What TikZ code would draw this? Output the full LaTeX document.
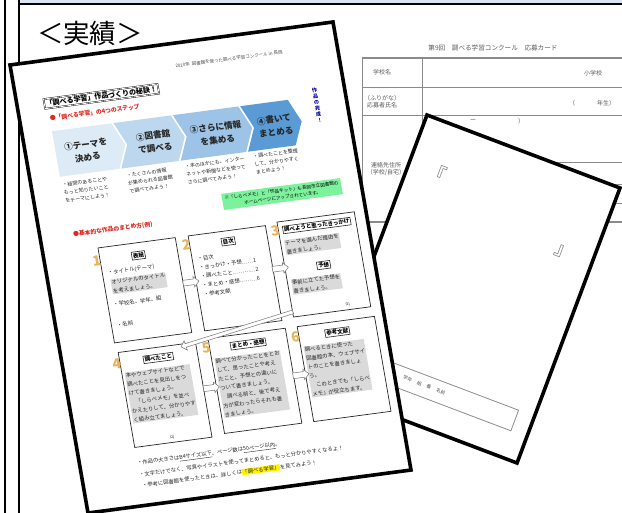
\documentclass[tikz,border=0pt]{standalone}
\usepackage{fontspec}
\setmainfont{Noto Sans CJK JP}
\usetikzlibrary{shapes.arrows,arrows.meta,calc}
\newcommand\fsz[2]{\fontsize{#1}{#2}\selectfont}
\definecolor{bandc}{HTML}{DCE6F2}
\definecolor{chA}{HTML}{DDEBF7}
\definecolor{chB}{HTML}{BDD7EE}
\definecolor{chC}{HTML}{9DC3E6}
\definecolor{chD}{HTML}{5B9BD5}
\definecolor{redc}{HTML}{E3261E}
\definecolor{greenc}{HTML}{7CF29C}
\definecolor{numc}{HTML}{E9B35A}
\definecolor{hlc}{HTML}{DADADA}
\definecolor{tblc}{HTML}{8A8A8A}
\definecolor{tbltxt}{HTML}{5A5A5A}
\begin{document}
\begin{tikzpicture}[x=1pt,y=-1pt,
  frameline/.style={line width=2pt},
  docedge/.style={line width=3.6pt, line join=miter},
  tblline/.style={draw=tblc, line width=0.9pt},
  tbltext/.style={text=tbltxt, font=\fsz{6}{8}, align=center, inner sep=0pt},
  steptext/.style={font=\bfseries\fsz{8.6}{13}, align=center, text=black!85, inner sep=0pt},
  desc/.style={font=\fsz{5}{8}, align=left, anchor=north west, inner sep=0pt, text=black!85},
  sbox/.style={draw=black!85, line width=0.7pt, anchor=north west, minimum width=78pt, minimum height=96pt, inner sep=0pt},
  hdr/.style={draw=black!85, line width=0.6pt, font=\bfseries\fsz{5.5}{6.5}, inner sep=1.2pt, fill=white},
  body/.style={font=\fsz{5.4}{9}, align=left, anchor=north west, inner sep=0.6pt, text=black!85},
  hlbody/.style={body, fill=hlc},
  num/.style={font=\bfseries\fsz{14}{14}, text=numc, inner sep=0pt},
  barrow/.style={single arrow, draw=black!55, fill=white, line width=0.5pt, minimum height=16pt, inner sep=2.6pt, single arrow head extend=2.4pt},
  note/.style={font=\fsz{5.3}{6}, anchor=west, inner sep=0pt, text=black!85},
  redhead/.style={font=\bfseries\fsz{5.8}{6.5}, text=redc, anchor=west, inner sep=0pt},
]
\useasboundingbox (0,0) rectangle (622,513);
\fill[white] (0,0) rectangle (622,513);
% frame
\fill[bandc] (19,0) rectangle (622,4);
\draw[frameline] (5,0) -- (5,513);
\draw[frameline] (19,0) -- (19,513);
\draw[frameline] (19,4) -- (622,4);
\node[font=\fsz{26.5}{27}, inner sep=0pt] (title) at (90,33) {＜実績＞};

% document 2: application card (background)
\node[tbltext, font=\fsz{6.6}{8}] (d2title) at (493,48) {第9回\quad 調べる学習コンクール\quad 応募カード};
\draw[tblline, line width=1.3pt] (362,58) -- (622,58);
\draw[tblline] (362,58) -- (362,222);
\draw[tblline] (422,58) -- (422,222);
\draw[tblline] (362,87) -- (622,87);
\draw[tblline] (362,115) -- (622,115);
\draw[tblline] (422,162) -- (622,162);
\draw[tblline] (422,184) -- (622,184);
\draw[tblline] (422,203) -- (622,203);
\draw[tblline, line width=1.5pt] (362,222) -- (622,222);
\node[tbltext] (r1) at (382,72) {学校名};
\node[tbltext] (r1b) at (593,73) {小学校};
\node[tbltext, font=\fsz{6}{7}] (r2) at (382,102) {（ふりがな）\\応募者氏名};
\node[tbltext] (r2b) at (572,103) {（};
\node[tbltext] (r2c) at (606,103) {年生）};
\node[tbltext] (r3a) at (473,121) {ー};
\node[tbltext] (r3b) at (521,121) {）};
\node[tbltext, font=\fsz{6}{7}] (r3) at (386,169) {連絡先住所\\（学校/自宅）};

% document 3: white card
\begin{scope}[cm={0.9369,-0.3544,0.3503,0.9354,(427,115)}, transform shape]
  \fill[white] (0,0) rectangle (206,294);
  \draw[draw=black!45, line width=0.8pt] (10,244) -- (189,244) -- (189,266) -- (10,266);
  \node[font=\fsz{4.6}{5}, text=black!70] (names) at (92,254) {学年\quad\ 組\quad\ 番\quad\ 名前};
  \node[font=\fsz{19}{19}, text=black!55, inner sep=0pt] (qa) at (30,50) {『};
  \node[font=\fsz{19}{19}, text=black!55, inner sep=0pt] (qb) at (176,80) {』};
  \draw[docedge] (0,0) rectangle (206,294);
\end{scope}

% document 1: main sheet
\begin{scope}[cm={0.9908,0.1319,-0.1722,0.989,(10,65)}, transform shape]
  \fill[white] (0,0) rectangle (326,453);
  \node[font=\fsz{4.5}{5}, text=black!70, inner sep=0pt] (hd) at (217,23) {2020年\ \ 図書館を使った調べる学習コンクール in 長岡};
  \node[draw, double, double distance=0.8pt, line width=0.4pt, font=\bfseries\fsz{7}{8}, inner sep=1.5pt, anchor=west] (tt) at (27,43) {「調べる学習」作品づくりの秘訣！};
  \node[redhead] (rh1) at (30,58) {●「調べる学習」の4つのステップ};
  % chevrons
  \fill[chA] (30,71) -- (90,71) -- (100,94) -- (90,117) -- (30,117) -- cycle;
  \fill[chB] (92,71) -- (150,71) -- (160,94) -- (150,117) -- (92,117) -- (102,94) -- cycle;
  \fill[chC] (152,71) -- (218,71) -- (228,94) -- (218,117) -- (152,117) -- (162,94) -- cycle;
  \fill[chD] (220,71) -- (268,71) -- (278,94) -- (268,117) -- (220,117) -- (230,94) -- cycle;
  \node[steptext] (s1) at (61,95) {①テーマを\\決める};
  \node[steptext] (s2) at (129,95) {②図書館\\で調べる};
  \node[steptext] (s3) at (192,95) {③さらに情報\\を集める};
  \node[steptext] (s4) at (251,95) {④書いて\\まとめる};
  \node[desc] (e1) at (31,123) {・疑問のあることや\\もっと知りたいこと\\をテーマにしよう！};
  \node[desc] (e2) at (96,122) {・たくさんの情報\\が集められる図書館\\で調べてみよう！};
  \node[desc] (e3) at (155,121) {・本のほかにも、インター\\ネットや新聞などを使って\\さらに調べてみよう！};
  \node[desc] (e4) at (224,120) {・調べたことを整理\\して、分かりやすく\\まとめよう！};
  \node[font=\bfseries\fsz{5}{6}, text=blue!65!black, align=center, inner sep=0pt] (vt) at (296,80) {作\\品\\の\\完\\成\\！};
  \node[fill=greenc, anchor=north west, inner sep=2.5pt, align=center, font=\fsz{4.6}{7}] (gbox) at (186,155) {※「しらべメモ」と「作品キット」も長岡市立図書館の\\ホームページにアップされています。};
  \node[redhead] (rh2) at (33,176) {●基本的な作品のまとめ方(例)};
  % six boxes
  \node[sbox] (b1) at (55,192) {};
  \node[sbox] (b2) at (146,192) {};
  \node[sbox] (b3) at (236,190) {};
  \node[sbox] (b4) at (57,298) {};
  \node[sbox] (b5) at (148,296) {};
  \node[sbox] (b6) at (238,296) {};
  \node[num] (n1) at (52,205) {1};
  \node[num] (n2) at (143,201) {2};
  \node[num] (n3) at (233,199) {3};
  \node[num] (n4) at (54,309) {4};
  \node[num] (n5) at (145,306) {5};
  \node[num] (n6) at (235,306) {6};
  % box 1
  \node[hdr] (h1) at (94,205) {表紙};
  \node[body] (t1a) at (60,215) {・タイトル(テーマ)};
  \node[hlbody] (t1b) at (62,225) {オリジナルのタイトル\\を考えましょう。};
  \node[body] (t1c) at (60,247) {・学校名、学年、組};
  \node[body] (t1d) at (60,268) {・名前};
  % box 2
  \node[hdr] (h2) at (185,203) {目次};
  \node[body] (t2) at (151,213) {・目次\\・きっかけ・予想……1\\・調べたこと…………2\\・まとめ・感想………6\\・参考文献};
  % box 3
  \node[hdr] (h3) at (275,199) {調べようと思ったきっかけ};
  \node[hlbody] (t3a) at (240,209) {テーマを選んだ理由を\\書きましょう。};
  \node[hdr] (h3b) at (275,239) {予想};
  \node[hlbody] (t3b) at (240,249) {事前に立てた予想を\\書きましょう。};
  \node[font=\fsz{3.5}{4}, inner sep=0pt] (p1) at (292,281) {(1)};
  % box 4
  \node[hdr] (h4) at (96,309) {調べたこと};
  \node[hlbody] (t4) at (60,319) {本やウェブサイトなどで\\調べたことを見出しをつ\\けて書きましょう。\\　「しらべメモ」を並べ\\かえたりして、分かりやす\\く組み立てましょう。};
  \node[font=\fsz{3.5}{4}, inner sep=0pt] (p2) at (96,389) {(2)};
  % box 5
  \node[hdr] (h5) at (187,307) {まとめ・感想};
  \node[hlbody] (t5) at (151,317) {調べて分かったことをとお\\して、思ったことや考え\\たこと、予想との違いに\\ついて書きましょう。\\　調べる前と、後で考え\\方が変わったらそれも書\\きましょう。};
  % box 6
  \node[hdr] (h6) at (277,307) {参考文献};
  \node[hlbody] (t6) at (241,317) {調べるときに使った\\図書館の本、ウェブサイ\\トのことを書きましょ\\う。\\　このときでも「しらべ\\メモ」が役立ちます。};
  % arrows
  \node[barrow] (a12) at ($(b1.east)!0.5!(b2.west)+(0,-2)$) {};
  \node[barrow] (a23) at ($(b2.east)!0.5!(b3.west)+(0,-3)$) {};
  \node[barrow] (a45) at ($(b4.east)!0.5!(b5.west)$) {};
  \node[barrow] (a56) at ($(b5.east)!0.5!(b6.west)$) {};
  \coordinate (d1) at ($(b3.south west)+(2,-6)$);
  \coordinate (d2) at ($(b4.north east)+(-15,3)$);
  \node[barrow, minimum height=118pt, inner sep=1.6pt, single arrow head extend=3pt, rotate=189.7] (a34) at ($(d1)!0.5!(d2)$) {};
  % notes
  \node[note] (nt1) at (57,411) {・作品の大きさは\underline{B4サイズ以下}、ページ数は\underline{50ページ以内}。};
  \node[note] (nt2) at (57,422) {・文字だけでなく、写真やイラストを使ってまとめると、もっと分かりやすくなるよ！};
  \node[note] (nt3) at (58,433) {・参考に図書館を使ったときは、詳しくは{\setlength\fboxsep{0.6pt}\colorbox{yellow}{「調べる学習」}}を見てみよう！};
  \draw[docedge] (0,0) rectangle (326,453);
\end{scope}
\end{tikzpicture}
\end{document}
